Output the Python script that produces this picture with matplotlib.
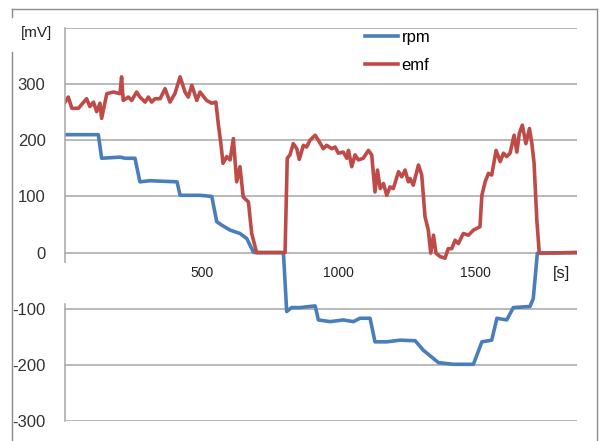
import matplotlib.pyplot as plt
from matplotlib.lines import Line2D
from matplotlib.patches import Rectangle

# time [s] and values [mV]
rpm_t = [0, 122, 134, 201, 220, 256, 274, 311, 410, 421, 494, 537, 555, 573, 604,
         640, 665, 689, 695, 799, 811, 829, 860, 915, 927, 970, 1018, 1055, 1079,
         1116, 1134, 1177, 1226, 1281, 1311, 1366, 1421, 1494, 1525, 1561, 1580,
         1616, 1640, 1701, 1713, 1728, 1872]
rpm_v = [210, 210, 168, 170, 168, 168, 126, 128, 126, 102, 102, 100, 55, 49, 40,
         34, 25, 1, 0, 0, -105, -98, -98, -95, -120, -123, -120, -123, -117,
         -117, -159, -159, -156, -157, -174, -196, -199, -199, -159, -156, -117,
         -120, -98, -96, -82, -1, 0]

emf_t = [0, 12, 25, 49, 79, 91, 104, 116, 128, 134, 153, 177, 201, 207, 213, 232,
         244, 262, 274, 293, 305, 317, 329, 348, 366, 384, 402, 421, 439, 451, 464,
         482, 494, 518, 537, 552, 561, 570, 578, 592, 604, 616, 628, 640, 652, 671,
         683, 701, 805, 813, 823, 835, 848, 857, 872, 884, 896, 915, 927, 945, 957,
         976, 988, 1000, 1018, 1031, 1037, 1049, 1061, 1073, 1091, 1110, 1122,
         1134, 1143, 1153, 1165, 1177, 1189, 1201, 1220, 1232, 1244, 1256, 1262,
         1274, 1293, 1305, 1317, 1329, 1338, 1348, 1357, 1372, 1390, 1402, 1415,
         1427, 1439, 1457, 1476, 1494, 1518, 1525, 1537, 1549, 1561, 1577, 1592,
         1604, 1616, 1628, 1643, 1653, 1662, 1673, 1686, 1699, 1708, 1716, 1726,
         1735, 1872]
emf_v = [268, 277, 257, 257, 274, 260, 268, 251, 266, 239, 283, 286, 283, 313, 271,
         277, 271, 286, 277, 268, 277, 268, 274, 274, 292, 268, 283, 313, 286, 277,
         298, 271, 286, 271, 266, 268, 228, 195, 159, 171, 165, 203, 126, 153, 99,
         90, 34, 0, 0, 168, 174, 194, 185, 166, 191, 188, 200, 209, 200, 185, 191,
         185, 188, 177, 179, 168, 182, 153, 174, 165, 168, 182, 174, 108, 147, 114,
         123, 102, 117, 114, 144, 135, 147, 126, 132, 120, 156, 138, 64, 40, -1, 31,
         -1, -7, -10, 7, 7, 22, 16, 34, 31, 40, 46, 102, 126, 141, 138, 182, 162,
         177, 171, 177, 209, 179, 212, 227, 194, 221, 194, 159, 58, -1, 0]

x_ticks = [500, 1000, 1500]
y_ticks = [-300, -200, -100, 0, 100, 200, 300, 400]
y_labels = ['-300', '-200', '-100', '0', '100', '200', '300', '']

BLUE = '#4a7ebb'
RED = '#be4b48'
GRID = '#a6a6a6'
plt.rcParams['font.family'] = ['Liberation Sans', 'DejaVu Sans']

fig = plt.figure(figsize=(6, 4.41), dpi=100)
W, H = 600, 441
ax = fig.add_axes([65 / W, 1 - 421 / H, 512 / W, 393 / H])

ax.plot(rpm_t, rpm_v, color=BLUE, lw=2.6, label='rpm', solid_joinstyle='round')
ax.plot(emf_t, emf_v, color=RED, lw=2.6, label='emf', solid_joinstyle='round')

ax.set_xlim(0, 1873)
ax.set_ylim(-300, 400)
ax.set_xticks([])
ax.set_yticks(y_ticks)
ax.set_yticklabels(y_labels, fontsize=12, color='#333333')
ax.tick_params(axis='y', length=0, pad=14)
ax.yaxis.grid(True, color=GRID, lw=1.1)
ax.set_axisbelow(True)
for s in ['top', 'right', 'bottom']:
    ax.spines[s].set_visible(False)
ax.spines['left'].set_color(GRID)
ax.spines['left'].set_linewidth(1.1)

# x tick labels sit just under the zero line
for t in x_ticks:
    ax.text(t, -36, str(t), ha='center', va='center', fontsize=10, color='#222222')
ax.text(1815, -38, '[s]', ha='center', va='center', fontsize=12, color='#222222')

# white label box breaking the left spine
fig.patches.append(Rectangle((64 / W, 1 - 302 / H), 4 / W, 39 / H,
                             transform=fig.transFigure, color='white', zorder=5))

# outer chart border
for xs, ys in [([12, 597], [9, 9]), ([12, 12], [9, 17]), ([12, 12], [52, 441]),
               ([597, 597], [9, 441])]:
    fig.add_artist(Line2D([x / W for x in xs], [1 - y / H for y in ys],
                          color='#8c8c8c', lw=1.0))

fig.text(36 / W, 1 - 33 / H, '[mV]', ha='center', va='center', fontsize=11,
         color='#222222')

ax.legend(loc='upper left', bbox_to_anchor=(365 / W, 1 - 30 / H),
          bbox_transform=fig.transFigure, frameon=False, fontsize=12,
          handlelength=2.0, handletextpad=0.2, labelspacing=0.75,
          borderpad=0, borderaxespad=0)

fig.savefig('out.png', dpi=100)
